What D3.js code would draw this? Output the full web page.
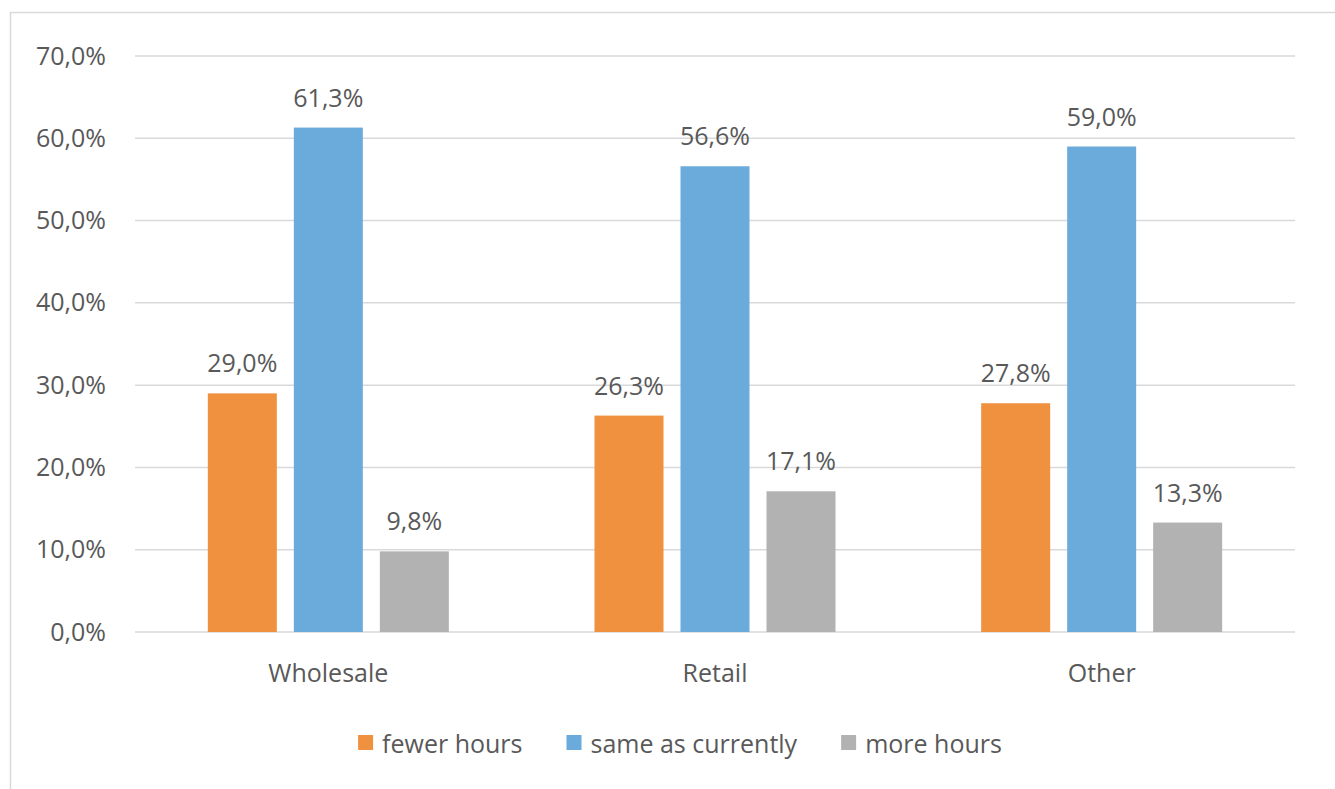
<!DOCTYPE html>
<html>
<head>
<meta charset="utf-8">
<script src="https://cdn.jsdelivr.net/npm/d3@7"></script>
<style>
  html, body { margin: 0; padding: 0; background: #ffffff; }
  svg { display: block; }
  text { font-family: "Open Sans", sans-serif; fill: #595959; }
</style>
</head>
<body>
<svg id="chart" width="1335" height="789"></svg>
<script>
const categories = ["Wholesale", "Retail", "Other"];
const seriesNames = ["fewer hours", "same as currently", "more hours"];
const fewerHours = [0.290, 0.263, 0.278];
const sameAsCurrently = [0.613, 0.566, 0.590];
const moreHours = [0.098, 0.171, 0.133];
const yTicks = [0, 0.1, 0.2, 0.3, 0.4, 0.5, 0.6, 0.7];
const colors = ["#F0913F", "#6AABDB", "#B2B2B2"];

(function () {
const seriesValues = [fewerHours, sameAsCurrently, moreHours];
const data = categories.map((c, i) => ({
  cat: c,
  vals: seriesNames.map((s, j) => ({ s, j, v: seriesValues[j][i] }))
}));

const fmt = v => d3.format(".1%")(v).replace(".", ",");

const svg = d3.select("#chart");

// outer border
svg.append("rect")
  .attr("x", 10.5).attr("y", 12.5)
  .attr("width", 1400).attr("height", 900)
  .attr("fill", "none").attr("stroke", "#D9D9D9").attr("stroke-width", 1.5);

const pLeft = 135, pRight = 1295, pTop = 56, pBottom = 632;

const y = d3.scaleLinear().domain([0, 0.7]).range([pBottom, pTop]);
const x0 = d3.scaleBand().domain(categories).range([pLeft, pRight]).padding(0);
const bw = x0.bandwidth();
const groupW = 241;
const x1 = d3.scaleBand().domain(seriesNames)
  .range([bw / 2 - groupW / 2, bw / 2 + groupW / 2])
  .paddingInner(17 / 86).paddingOuter(0);

// gridlines
svg.append("g").selectAll("line").data(yTicks).join("line")
  .attr("x1", pLeft).attr("x2", pRight)
  .attr("y1", d => y(d)).attr("y2", d => y(d))
  .attr("stroke", "#D9D9D9").attr("stroke-width", 1.5);

// y axis labels
const yAxis = d3.axisLeft(y).tickValues(yTicks).tickFormat(fmt).tickSize(0).tickPadding(0);
const gy = svg.append("g").attr("transform", `translate(106,0)`).call(yAxis);
gy.select(".domain").remove();
gy.selectAll("text").attr("font-size", 25).attr("fill", "#595959")
  .style("font-family", "'Open Sans', sans-serif");

// bars
const groups = svg.append("g").selectAll("g").data(data).join("g")
  .attr("transform", d => `translate(${x0(d.cat)},0)`);

groups.selectAll("rect").data(d => d.vals).join("rect")
  .attr("x", d => x1(d.s))
  .attr("width", x1.bandwidth())
  .attr("y", d => y(d.v))
  .attr("height", d => y(0) - y(d.v))
  .attr("fill", d => colors[d.j]);

groups.selectAll("text.lbl").data(d => d.vals).join("text")
  .attr("class", "lbl")
  .attr("x", d => x1(d.s) + x1.bandwidth() / 2)
  .attr("y", d => y(d.v) - 21)
  .attr("text-anchor", "middle")
  .attr("font-size", 25)
  .text(d => fmt(d.v));

// x axis labels
const xAxis = d3.axisBottom(x0).tickSize(0).tickPadding(0);
const gx = svg.append("g").attr("transform", `translate(0,${pBottom + 50})`).call(xAxis);
gx.select(".domain").remove();
gx.selectAll("text").attr("font-size", 25).attr("fill", "#595959").attr("dy", 0)
  .style("font-family", "'Open Sans', sans-serif");

// legend
const legend = svg.append("g");
const items = legend.selectAll("g").data(seriesNames).join("g");
items.append("rect").attr("width", 15).attr("height", 15).attr("y", -18)
  .attr("fill", (d, i) => colors[i]);
items.append("text").attr("x", 24).attr("y", 0).attr("font-size", 25).text(d => d);
let xpos = 0;
const offsets = [];
items.each(function () {
  offsets.push(xpos);
  const w = this.querySelector("text").getComputedTextLength();
  xpos += 24 + w + 44;
});
const totalW = xpos - 44;
const legendX = 680 - totalW / 2;
items.attr("transform", (d, i) => `translate(${legendX + offsets[i]},753)`);
})();
</script>
</body>
</html>
